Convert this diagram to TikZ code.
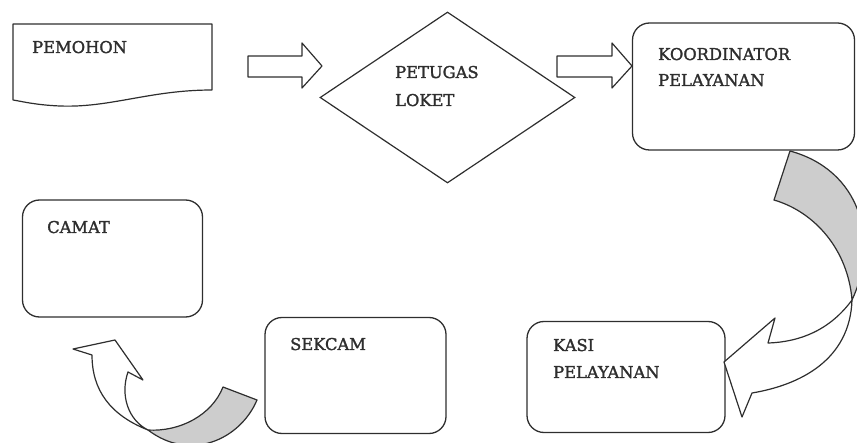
\documentclass[tikz,border=0pt]{standalone}
\usepackage{fontspec}
\setmainfont{DejaVu Serif}
\newfontfamily\lblfont{DejaVu Serif}[FakeBold=1.6]
\usetikzlibrary{shapes.geometric}
\definecolor{ink}{HTML}{2E2E2E}
\definecolor{band}{HTML}{CDCDCD}
\tikzset{
  lbl/.style={anchor=base west, inner sep=0pt, text=ink, font=\lblfont\fontsize{16.3}{20}\selectfont},
  rbox/.style={draw=ink, line width=1.3pt, rounded corners=17pt, inner sep=0pt},
  outl/.style={draw=ink, line width=1.2pt, line join=round},
  gband/.style={outl, fill=band},
}
\begin{document}
\begin{tikzpicture}[x=1pt,y=-1pt]
\useasboundingbox (0,0) rectangle (857,443);
\begin{scope}
\clip (0,0) rectangle (857,443);
% PEMOHON document
\draw[outl] (13,24) -- (212,24) -- (212,90) .. controls (150,90) and (110,108) .. (60,106) .. controls (35,105) and (20,101) .. (13,100) -- cycle;
\node[lbl] (t1) at (32,53) {PEMOHON};
% block arrows
\draw[outl] (248,56) -- (302,56) -- (302,43) -- (322,66) -- (302,88) -- (302,77) -- (248,77) -- cycle;
\draw[outl] (557,56) -- (612,56) -- (612,43) -- (632,66) -- (612,88) -- (612,77) -- (557,77) -- cycle;
% diamond
\node[draw=ink, line width=1.2pt, diamond, minimum width=255pt, minimum height=171pt, inner sep=0pt] (loket) at (447.5,97.5) {};
\node[lbl] (t2) at (395,78) {PETUGAS};
\node[lbl] (t3) at (395,106) {LOKET};
% boxes
\node[rbox, minimum width=222pt, minimum height=127pt] (koord) at (743.5,86.5) {};
\node[lbl] (t4) at (658,60) {KOORDINATOR};
\node[lbl] (t5) at (658,86) {PELAYANAN};
\node[rbox, minimum width=180pt, minimum height=117pt] (camat) at (112.5,258.5) {};
\node[lbl] (t6) at (47,233) {CAMAT};
\node[rbox, minimum width=181pt, minimum height=116pt] (sekcam) at (355.5,375.5) {};
\node[lbl] (t7) at (290,350) {SEKCAM};
\node[rbox, minimum width=198pt, minimum height=111pt] (kasi) at (626,377) {};
\node[lbl] (t8) at (553,351) {KASI};
\node[lbl] (t9) at (553,378) {PELAYANAN};
% right curved arrow
\draw[gband] (790,151) -- (774,200) .. controls (815,212) and (848,250) .. (852,300) .. controls (880,240) and (860,170) .. (790,151) -- cycle;
\draw[outl, fill=white] (852,300) .. controls (830,330) and (800,342) .. (768,343) -- (775,318) -- (724,362) -- (742,417) -- (752,393) .. controls (800,385) and (850,360) .. (852,300) -- cycle;
% left curved arrow
\draw[gband] (148,430) .. controls (180,432) and (212,415) .. (223,387) -- (257,400) .. controls (240,440) and (190,462) .. (148,430) -- cycle;
\draw[outl, fill=white] (148,430) .. controls (110,415) and (92,390) .. (92,355) -- (73,349) -- (115,340) -- (143,380) -- (128,372) .. controls (120,395) and (128,420) .. (148,430) -- cycle;
\end{scope}
\end{tikzpicture}
\end{document}
